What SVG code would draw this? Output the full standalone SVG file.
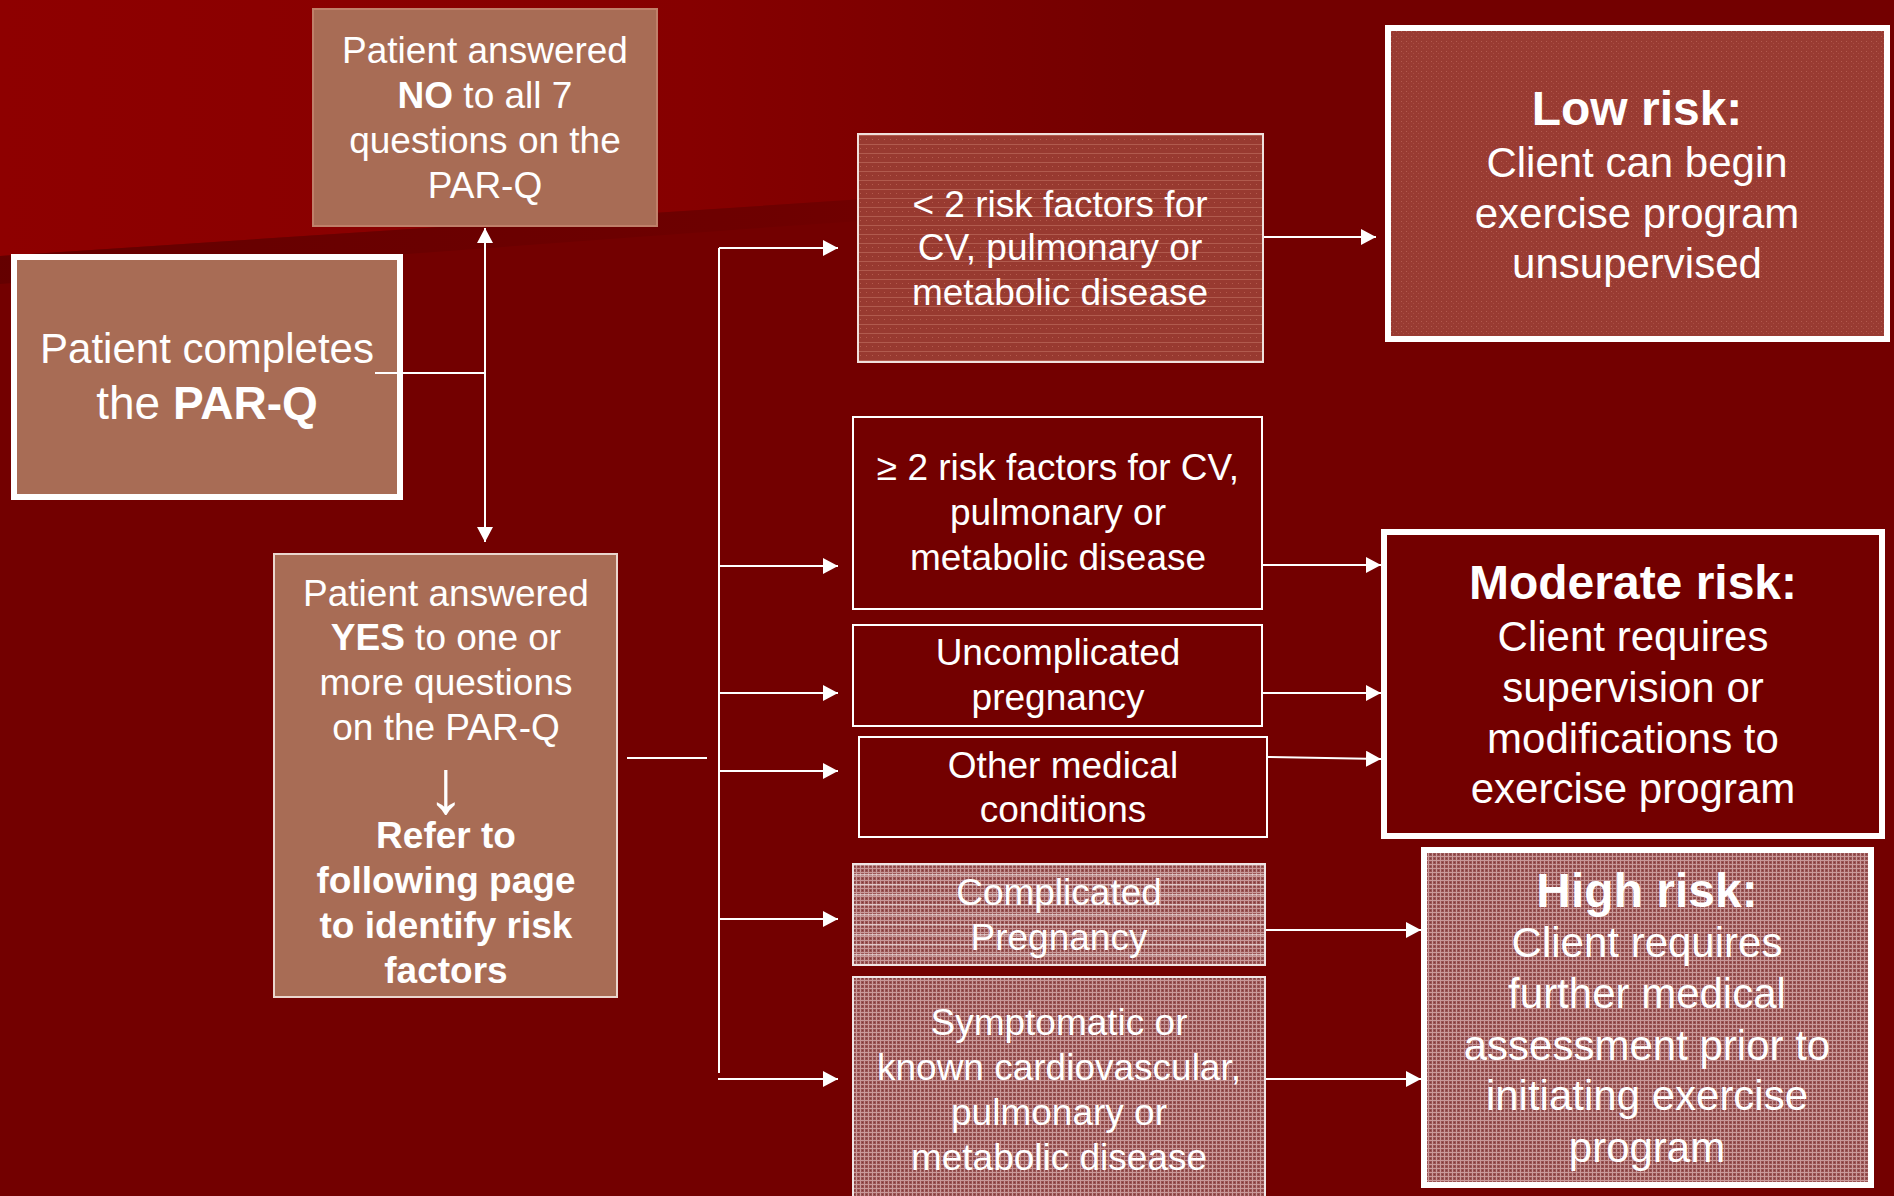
<svg xmlns="http://www.w3.org/2000/svg" width="1894" height="1196" viewBox="0 0 1894 1196">
<style>
text{font-family:"Liberation Sans",Arial,sans-serif;fill:#ffffff;text-anchor:middle}
.t37{font-size:37px}
.t42{font-size:42px}
.b{font-weight:bold}
.h48{font-size:48px;font-weight:bold}
.conn{stroke:#ffffff;stroke-width:2;fill:none}
.tan{fill:#A86C55}
</style>
<defs>
<linearGradient id="bgTop" gradientUnits="userSpaceOnUse" x1="0" y1="0" x2="1150" y2="0">
<stop offset="0" stop-color="#8E0000"/>
<stop offset="0.6" stop-color="#860000"/>
<stop offset="1" stop-color="#730000"/>
</linearGradient>
<linearGradient id="shade" gradientUnits="userSpaceOnUse" x1="0" y1="0" x2="1100" y2="0">
<stop offset="0" stop-color="#630000" stop-opacity="0.9"/>
<stop offset="0.7" stop-color="#680000" stop-opacity="0.5"/>
<stop offset="1" stop-color="#730000" stop-opacity="0"/>
</linearGradient>
<pattern id="brick" width="6" height="9" patternUnits="userSpaceOnUse">
<rect width="6" height="9" fill="#983A30"/>
<rect y="0" width="6" height="1" fill="#BC6A5C" opacity="0.7"/>
<rect x="2" y="4" width="1" height="1" fill="#B45A4C"/>
</pattern>
<pattern id="dots" width="5" height="5" patternUnits="userSpaceOnUse">
<rect width="5" height="5" fill="#993B32"/>
<rect x="1" y="1" width="1" height="1" fill="#B25A4E"/>
<rect x="3" y="3" width="1" height="1" fill="#A84C42"/>
</pattern>
<pattern id="grid" width="4" height="4" patternUnits="userSpaceOnUse">
<rect width="4" height="4" fill="#9A5454"/>
<rect width="4" height="1" fill="#C99A9A"/>
<rect width="1" height="4" fill="#C99A9A"/>
<rect x="2" y="2" width="1" height="1" fill="#7E3A3A"/>
</pattern>
<pattern id="hlines" width="10" height="10" patternUnits="userSpaceOnUse">
<rect y="4" width="10" height="1.5" fill="#E8D8D8" opacity="0.75"/>
</pattern>
<marker id="arr" markerUnits="userSpaceOnUse" markerWidth="16" markerHeight="18" refX="15" refY="8" orient="auto">
<path d="M0,0 L15,8 L0,16 Z" fill="#ffffff"/>
</marker>
</defs>

<!-- background -->
<rect width="1894" height="1196" fill="#730000"/>
<polygon points="0,0 1894,0 1894,130 760,206 0,256" fill="url(#bgTop)"/>
<polygon points="0,256 760,206 1894,130 1894,150 760,228 0,284" fill="url(#shade)"/>

<!-- connectors -->
<g id="connectors">
<line class="conn" x1="375" y1="373" x2="485" y2="373"/>
<line class="conn" x1="485" y1="300" x2="485" y2="228" marker-end="url(#arr)"/>
<line class="conn" x1="485" y1="300" x2="485" y2="542" marker-end="url(#arr)"/>
<line class="conn" x1="627" y1="758" x2="707" y2="758"/>
<line class="conn" x1="719" y1="248" x2="719" y2="1073"/>
<line class="conn" x1="719" y1="248" x2="838" y2="248" marker-end="url(#arr)"/>
<line class="conn" x1="719" y1="566" x2="838" y2="566" marker-end="url(#arr)"/>
<line class="conn" x1="719" y1="693" x2="838" y2="693" marker-end="url(#arr)"/>
<line class="conn" x1="719" y1="771" x2="838" y2="771" marker-end="url(#arr)"/>
<line class="conn" x1="719" y1="919" x2="838" y2="919" marker-end="url(#arr)"/>
<line class="conn" x1="718" y1="1079" x2="838" y2="1079" marker-end="url(#arr)"/>
<line class="conn" x1="1263" y1="237" x2="1376" y2="237" marker-end="url(#arr)"/>
<line class="conn" x1="1262" y1="565" x2="1381" y2="565" marker-end="url(#arr)"/>
<line class="conn" x1="1262" y1="693" x2="1381" y2="693" marker-end="url(#arr)"/>
<line class="conn" x1="1267" y1="757" x2="1381" y2="759" marker-end="url(#arr)"/>
<line class="conn" x1="1265" y1="930" x2="1421" y2="930" marker-end="url(#arr)"/>
<line class="conn" x1="1265" y1="1079" x2="1421" y2="1079" marker-end="url(#arr)"/>
</g>

<g id="no-box">
<rect x="313" y="9" width="344" height="217" class="tan" stroke="#C0806A" stroke-width="2"/>
<text class="t37" x="485" y="63">Patient answered</text>
<text class="t37" x="485" y="108"><tspan class="b">NO</tspan> to all 7</text>
<text class="t37" x="485" y="153">questions on the</text>
<text class="t37" x="485" y="198">PAR-Q</text>
</g>

<g id="start-box">
<rect x="14" y="257" width="386" height="240" class="tan" stroke="#ffffff" stroke-width="6"/>
<text class="t42" x="207" y="363">Patient completes</text>
<text x="207" y="419" style="font-size:46px">the <tspan class="b">PAR-Q</tspan></text>
</g>
<line class="conn" x1="375" y1="373" x2="400" y2="373"/>

<g id="yes-box">
<rect x="274" y="554" width="343" height="443" class="tan" stroke="#EBD6CE" stroke-width="2"/>
<text class="t37" x="446" y="606">Patient answered</text>
<text class="t37" x="446" y="650"><tspan class="b">YES</tspan> to one or</text>
<text class="t37" x="446" y="695">more questions</text>
<text class="t37" x="446" y="740">on the PAR-Q</text>
<text x="446" y="813" style="font-size:76px">↓</text>
<text class="t37 b" x="446" y="848">Refer to</text>
<text class="t37 b" x="446" y="893">following page</text>
<text class="t37 b" x="446" y="938">to identify risk</text>
<text class="t37 b" x="446" y="983">factors</text>
</g>

<g id="lt2-box">
<rect x="858" y="134" width="405" height="228" fill="url(#brick)" stroke="#F0E0DC" stroke-width="2"/>
<text class="t37" x="1060" y="217">&lt; 2 risk factors for</text>
<text class="t37" x="1060" y="260">CV, pulmonary or</text>
<text class="t37" x="1060" y="305">metabolic disease</text>
</g>

<g id="ge2-box">
<rect x="853" y="417" width="409" height="192" fill="#730000" stroke="#ffffff" stroke-width="2"/>
<text class="t37" x="1058" y="480">≥ 2 risk factors for CV,</text>
<text class="t37" x="1058" y="525">pulmonary or</text>
<text class="t37" x="1058" y="570">metabolic disease</text>
</g>

<g id="uncomplicated-box">
<rect x="853" y="625" width="409" height="101" fill="#730000" stroke="#ffffff" stroke-width="2"/>
<text class="t37" x="1058" y="665">Uncomplicated</text>
<text class="t37" x="1058" y="710">pregnancy</text>
</g>

<g id="other-box">
<rect x="859" y="737" width="408" height="100" fill="#730000" stroke="#ffffff" stroke-width="2"/>
<text class="t37" x="1063" y="778">Other medical</text>
<text class="t37" x="1063" y="822">conditions</text>
</g>

<g id="complicated-box">
<rect x="853" y="864" width="412" height="101" fill="url(#grid)" stroke="#F0E4E4" stroke-width="2"/>
<rect x="854" y="865" width="410" height="99" fill="url(#hlines)"/>
<text class="t37" x="1059" y="905">Complicated</text>
<text class="t37" x="1059" y="950">Pregnancy</text>
</g>

<g id="symptomatic-box">
<rect x="853" y="977" width="412" height="240" fill="url(#grid)" stroke="#F0E4E4" stroke-width="2"/>
<text class="t37" x="1059" y="1035">Symptomatic or</text>
<text class="t37" x="1059" y="1080">known cardiovascular,</text>
<text class="t37" x="1059" y="1125">pulmonary or</text>
<text class="t37" x="1059" y="1170">metabolic disease</text>
</g>

<g id="low-risk">
<rect x="1388" y="28" width="499" height="311" fill="url(#dots)" stroke="#ffffff" stroke-width="6"/>
<text class="h48" x="1637" y="125">Low risk:</text>
<text class="t42" x="1637" y="177">Client can begin</text>
<text class="t42" x="1637" y="228">exercise program</text>
<text class="t42" x="1637" y="278">unsupervised</text>
</g>

<g id="moderate-risk">
<rect x="1384" y="532" width="498" height="304" fill="#730000" stroke="#ffffff" stroke-width="6"/>
<text class="h48" x="1633" y="599">Moderate risk:</text>
<text class="t42" x="1633" y="651">Client requires</text>
<text class="t42" x="1633" y="702">supervision or</text>
<text class="t42" x="1633" y="753">modifications to</text>
<text class="t42" x="1633" y="803">exercise program</text>
</g>

<g id="high-risk">
<rect x="1424" y="850" width="447" height="335" fill="url(#grid)" stroke="#ffffff" stroke-width="6"/>
<text class="h48" x="1647" y="907">High risk:</text>
<text class="t42" x="1647" y="957">Client requires</text>
<text class="t42" x="1647" y="1008">further medical</text>
<text class="t42" x="1647" y="1060">assessment prior to</text>
<text class="t42" x="1647" y="1110">initiating exercise</text>
<text class="t42" x="1647" y="1162">program</text>
</g>
</svg>
